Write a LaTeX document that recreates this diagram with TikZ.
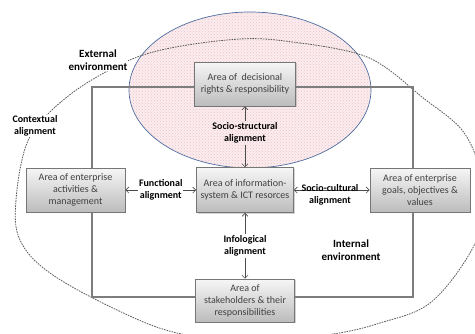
\documentclass[tikz,border=0pt]{standalone}
\usepackage{fontspec}
\setmainfont{Carlito}
\usetikzlibrary{arrows.meta,shadows,patterns}
\definecolor{pinkfill}{RGB}{251,237,239}
\definecolor{pinkdot}{RGB}{236,192,199}
\definecolor{ellblue}{RGB}{79,109,160}
\definecolor{boxtop}{RGB}{246,246,246}
\definecolor{boxbot}{RGB}{188,188,188}
\definecolor{boxedge}{RGB}{118,118,118}
\definecolor{framegray}{RGB}{125,125,125}
\definecolor{dashgray}{RGB}{90,90,90}
\begin{document}
\begin{tikzpicture}[x=1pt,y=-1pt,
  areabox/.style={draw=boxedge, line width=0.8pt, top color=boxtop, bottom color=boxbot,
    align=center, font=\fontsize{10}{12}\selectfont, text=black!75, inner sep=1pt,
    drop shadow={shadow xshift=1.3pt, shadow yshift=-1.3pt, opacity=0.35}},
  lbl/.style={font=\fontsize{10}{12}\selectfont\bfseries, align=center, inner sep=1pt},
  envlbl/.style={font=\fontsize{11}{12.5}\selectfont\bfseries, align=center, inner sep=1pt},
  conn/.style={draw=black!70, line width=0.6pt, -{Straight Barb[length=3pt,width=6pt]}},
  dconn/.style={draw=black!70, line width=0.6pt, {Straight Barb[length=3pt,width=6pt]}-{Straight Barb[length=3pt,width=6pt]}},
  envdash/.style={draw=dashgray, line width=0.8pt, dash pattern=on 1.6pt off 1pt},
  framebox/.style={draw=framegray, line width=1.1pt}]
\useasboundingbox (0,0) rectangle (475,333);
\begin{scope}
\clip (0,0) rectangle (475,333);
% pink ellipse
\fill[pinkfill] (250,90) ellipse [x radius=121pt, y radius=78pt];
\fill[pattern=crosshatch dots, pattern color=pinkdot] (250,90) ellipse [x radius=121pt, y radius=78pt];
\draw[ellblue, line width=0.7pt] (250,90) ellipse [x radius=121pt, y radius=78pt];
% external environment outline
\draw[envdash] plot[smooth cycle, tension=0.6] coordinates {
  (240,39) (300,43) (355,53) (385,67) (422,97) (462,130) (480,170) (484,210)
  (470,253) (430,303) (380,323) (333,334) (255,343) (177,333) (117,310)
  (50,273) (20,240) (16,200) (27,143) (52,110) (95,78) (153,52)};
% internal environment frame
\draw[framebox] (92,87) rectangle (413,297);
\end{scope}
% area boxes
\node[areabox, minimum width=101pt, minimum height=44pt] (dec) at (245,84) {Area of\ \ decisional\\rights \& responsibility};
\node[areabox, minimum width=97pt, minimum height=45pt] (info) at (245,190) {Area of information-\\system \& ICT resorces};
\node[areabox, minimum width=99pt, minimum height=44pt] (act) at (75.5,190) {Area of enterprise\\activities \&\\management};
\node[areabox, minimum width=100pt, minimum height=44pt] (goals) at (420,190) {Area of enterprise\\goals, objectives \&\\values};
\node[areabox, minimum width=99pt, minimum height=43pt] (stake) at (245,300.5) {Area of\\stakeholders \& their\\responsibilities};
% alignment labels and connectors
\node[lbl] (sslbl) at (245,133) {Socio-structural\\alignment};
\draw[conn] (sslbl) -- (dec);
\draw[conn] (sslbl) -- (info);
\node[lbl] (iflbl) at (245,246) {Infological\\alignment};
\draw[conn] (iflbl) -- (info);
\draw[conn] (iflbl) -- (stake);
\draw[dconn] (act) -- (info) node[lbl, fill=white, midway] (fnlbl) {Functional\\alignment};
\draw[dconn] (info) -- (goals);
\node[lbl] (sclbl) at (330,194.5) {Socio-cultural\\alignment};
% environment labels
\node[envlbl, fill=white] (extlbl) at (98,60) {External\\environment};
\node[lbl, fill=white] (ctxlbl) at (35,126) {Contextual\\alignment};
\node[envlbl] (intlbl) at (351,250) {Internal\\environment};
\end{tikzpicture}
\end{document}
